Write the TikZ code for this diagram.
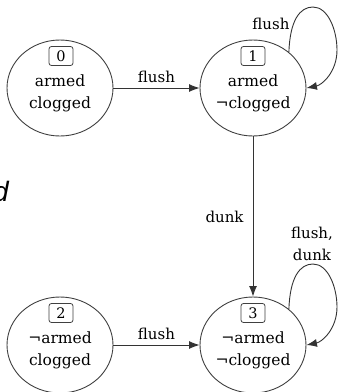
\documentclass[tikz,border=0pt]{standalone}
\usepackage{fontspec}
\setmainfont{DejaVu Serif}
\newfontfamily\strayfont{Liberation Sans}
\usetikzlibrary{shapes.geometric,arrows.meta}
\tikzset{
  state/.style={ellipse,draw=black!75,line width=0.9pt,minimum width=106pt,minimum height=96pt,inner sep=0pt},
  numbox/.style={draw=black!75,line width=0.8pt,rounded corners=2.5pt,minimum width=24pt,minimum height=19pt,inner sep=0pt,font=\fontsize{14.5}{16}\selectfont},
  stext/.style={align=center,inner sep=0pt,font=\fontsize{15.5}{22}\selectfont},
  elabel/.style={inner sep=0pt,font=\fontsize{15}{22}\selectfont},
  conn/.style={draw=black!80,line width=0.9pt,-{Latex[length=10.5pt,width=8pt]}},
}
\begin{document}
\begin{tikzpicture}[x=1pt,y=-1pt]
\useasboundingbox (0,0) rectangle (338,392);
\fill[white] (0,0) rectangle (338,392);
% stray fragment, cut off at the left edge as in the reference
\begin{scope}
\clip (0,0) rectangle (338,392);
\node[anchor=base east,inner sep=0pt,font=\strayfont\itshape\fontsize{28}{30}\selectfont] (stray) at (9,201) {d};
\end{scope}
% states
\node[state] (n0) at (60,88) {};
\node[state] (n1) at (253,88) {};
\node[state] (n2) at (60,345) {};
\node[state] (n3) at (253,345) {};
\node[numbox] (b0) at (61,56) {0};
\node[numbox] (b1) at (253,56) {1};
\node[numbox] (b2) at (61,313) {2};
\node[numbox] (b3) at (253,313) {3};
\node[stext] (t0) at (60,93) {armed\\clogged};
\node[stext] (t1) at (253,93) {armed\\¬clogged};
\node[stext] (t2) at (60,350) {¬armed\\clogged};
\node[stext] (t3) at (253,350) {¬armed\\¬clogged};
% connectors
\draw[conn] (n0) -- node[elabel,above=5pt] (l01) {flush} (n1);
\draw[conn] (n2) -- node[elabel,above=5pt] (l23) {flush} (n3);
\draw[conn] (n1) -- node[elabel,left=9pt] (l13) {dunk} (n3);
\draw[conn] (n1.45) .. controls (290,20) and (300,7) .. (313,7)
  .. controls (328,7) and (337,30) .. (337,50)
  .. controls (337,72) and (322,85) .. (n1.east);
\draw[conn] (n3.45) .. controls (290,277) and (300,264) .. (313,264)
  .. controls (328,264) and (337,287) .. (337,307)
  .. controls (337,329) and (322,342) .. (n3.east);
\node[elabel] (l11) at (271,24) {flush};
\node[elabel,align=center] (l33) at (312,244) {flush,\\dunk};
\end{tikzpicture}
\end{document}
